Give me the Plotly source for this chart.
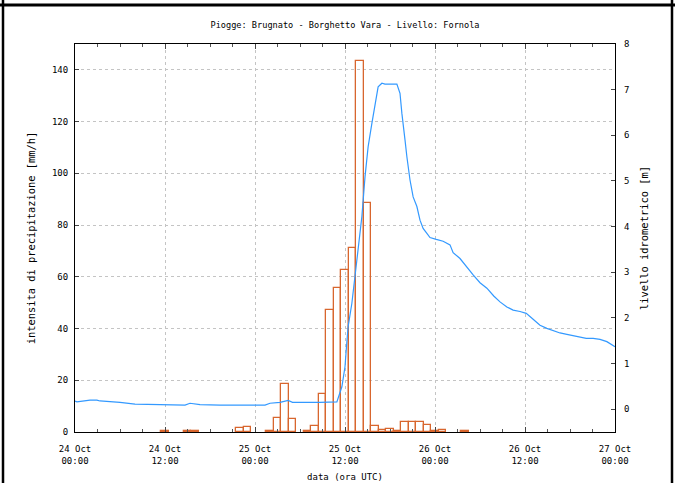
import plotly.graph_objects as go

# --- data ---
rain_times = [
    "2011-10-24 12:00", "2011-10-24 15:00", "2011-10-24 16:00", "2011-10-24 22:00", "2011-10-24 23:00",
    "2011-10-25 02:00", "2011-10-25 03:00", "2011-10-25 04:00", "2011-10-25 05:00", "2011-10-25 07:00",
    "2011-10-25 08:00", "2011-10-25 09:00", "2011-10-25 10:00", "2011-10-25 11:00", "2011-10-25 12:00",
    "2011-10-25 13:00", "2011-10-25 14:00", "2011-10-25 15:00", "2011-10-25 16:00", "2011-10-25 17:00",
    "2011-10-25 18:00", "2011-10-25 19:00", "2011-10-25 20:00", "2011-10-25 21:00", "2011-10-25 22:00",
    "2011-10-25 23:00", "2011-10-26 00:00", "2011-10-26 01:00", "2011-10-26 04:00",
]
rain_values = [
    0.3, 0.3, 0.3, 1.4, 1.8,
    0.5, 5.5, 18.4, 5.2, 0.5,
    2.4, 14.6, 47.2, 55.8, 62.6,
    71.3, 143.4, 88.5, 2.2, 0.8,
    1.3, 0.3, 4.0, 4.0, 4.0,
    2.6, 0.4, 0.7, 0.3,
]

level_times = [
    "2011-10-24 00:00", "2011-10-24 00:15", "2011-10-24 02:00", "2011-10-24 02:55", "2011-10-24 03:20",
    "2011-10-24 06:00", "2011-10-24 08:00", "2011-10-24 11:20", "2011-10-24 12:00", "2011-10-24 14:40",
    "2011-10-24 15:20", "2011-10-24 16:40", "2011-10-24 19:20", "2011-10-24 23:20", "2011-10-25 01:20",
    "2011-10-25 02:00", "2011-10-25 03:20", "2011-10-25 04:25", "2011-10-25 05:00", "2011-10-25 08:40",
    "2011-10-25 10:55", "2011-10-25 11:35", "2011-10-25 12:00", "2011-10-25 12:10", "2011-10-25 12:25",
    "2011-10-25 12:55", "2011-10-25 13:20", "2011-10-25 13:50", "2011-10-25 14:15", "2011-10-25 14:40",
    "2011-10-25 15:05", "2011-10-25 15:35", "2011-10-25 16:00", "2011-10-25 16:25", "2011-10-25 16:55",
    "2011-10-25 17:20", "2011-10-25 18:55", "2011-10-25 19:20", "2011-10-25 19:35", "2011-10-25 19:50",
    "2011-10-25 20:00", "2011-10-25 20:15", "2011-10-25 20:40", "2011-10-25 21:05", "2011-10-25 21:35",
    "2011-10-25 22:00", "2011-10-25 22:25", "2011-10-25 22:55", "2011-10-25 23:20", "2011-10-26 00:10",
    "2011-10-26 01:05", "2011-10-26 02:00", "2011-10-26 02:25", "2011-10-26 03:20", "2011-10-26 04:10",
    "2011-10-26 05:05", "2011-10-26 06:00", "2011-10-26 06:55", "2011-10-26 07:50", "2011-10-26 08:40",
    "2011-10-26 09:35", "2011-10-26 10:25", "2011-10-26 11:20", "2011-10-26 12:10", "2011-10-26 13:05",
    "2011-10-26 14:00", "2011-10-26 14:55", "2011-10-26 15:50", "2011-10-26 16:40", "2011-10-26 17:35",
    "2011-10-26 18:25", "2011-10-26 19:20", "2011-10-26 20:10", "2011-10-26 21:05", "2011-10-26 22:00",
    "2011-10-26 22:55", "2011-10-26 23:50", "2011-10-27 00:00",
]
level_values = [
    0.18, 0.16, 0.20, 0.20, 0.18,
    0.15, 0.11, 0.10, 0.11, 0.09,
    0.13, 0.10, 0.09, 0.09, 0.09,
    0.13, 0.15, 0.19, 0.15, 0.15,
    0.16, 0.49, 0.93, 1.30, 1.81,
    2.32, 2.90, 3.56, 4.22, 5.09,
    5.75, 6.26, 6.70, 7.06, 7.14,
    7.12, 7.12, 6.92, 6.48, 6.19,
    5.90, 5.53, 5.02, 4.65, 4.44,
    4.14, 3.96, 3.85, 3.76, 3.72,
    3.68, 3.60, 3.43, 3.30, 3.12,
    2.94, 2.77, 2.65, 2.48, 2.35,
    2.24, 2.17, 2.14, 2.10, 1.97,
    1.84, 1.77, 1.72, 1.67, 1.64,
    1.61, 1.59, 1.55, 1.55, 1.53,
    1.48, 1.39, 1.37,
]

title_text = "Piogge: Brugnato - Borghetto Vara - Livello: Fornola"
y_left_title = "intensita di precipitazione [mm/h]"
y_right_title = "livello idrometrico [m]"
x_title = "data (ora UTC)"

FONT = "DejaVu Sans Mono"
HOUR_MS = 3600000

fig = go.Figure()
fig.add_trace(go.Bar(
    x=rain_times, y=rain_values, width=HOUR_MS,
    marker=dict(color="rgba(255,255,255,0)", line=dict(color="#D8662E", width=1.3)),
    yaxis="y", showlegend=False,
))
fig.add_trace(go.Scatter(
    x=level_times, y=level_values, mode="lines",
    line=dict(color="#3399FF", width=1.2),
    yaxis="y2", showlegend=False,
))

grid = dict(showgrid=True, gridcolor="#C4C4C4", griddash="dot", gridwidth=1)

fig.update_layout(
    width=675, height=483,
    margin=dict(l=75, r=60, t=44, b=51),
    paper_bgcolor="white", plot_bgcolor="white",
    font=dict(family=FONT, size=9, color="black"),
    bargap=0,
    title=dict(text=title_text, x=345 / 675, xanchor="center", y=1 - 25 / 483, yanchor="middle",
               font=dict(family=FONT, size=8.6, color="black")),
    xaxis=dict(
        type="date", range=["2011-10-24 00:00", "2011-10-27 00:00"], automargin=False,
        dtick=12 * HOUR_MS, tick0="2011-10-24 00:00", tickformat="%d %b<br>%H:%M",
        ticks="inside", ticklen=5, tickcolor="#444", showline=True, linecolor="black", linewidth=1,
        mirror="ticks", ticklabelstandoff=8,
        minor=dict(dtick=3 * HOUR_MS, ticks="inside", ticklen=3, tickcolor="#555"),
        title=dict(text=x_title, standoff=9, font=dict(family=FONT, size=9)), **grid,
    ),
    yaxis=dict(
        range=[0, 150], dtick=20, tick0=0, ticks="inside", ticklen=4, tickcolor="#444",
        showline=True, linecolor="black", linewidth=1, mirror=True, zeroline=False,
        ticklabelstandoff=4, automargin=False,
        title=dict(text=y_left_title, standoff=14, font=dict(family=FONT, size=10.4)), **grid,
    ),
    yaxis2=dict(
        overlaying="y", side="right", range=[-0.5, 8], dtick=1, tick0=0,
        ticks="inside", ticklen=4, tickcolor="#444", showgrid=False, zeroline=False,
        ticklabelstandoff=8, automargin=False,
        title=dict(text=y_right_title, standoff=12, font=dict(family=FONT, size=10.4)),
    ),
)

# outer frame lines (page border)
fig.add_shape(type="line", xref="paper", yref="paper", x0=(3 - 75) / 540, x1=(3 - 75) / 540,
              y0=(432 - 0) / 388, y1=(432 - 483) / 388, line=dict(color="black", width=2.5))
fig.add_shape(type="line", xref="paper", yref="paper", x0=(672 - 75) / 540, x1=(672 - 75) / 540,
              y0=(432 - 0) / 388, y1=(432 - 483) / 388, line=dict(color="black", width=2.5))
fig.add_shape(type="line", xref="paper", yref="paper", x0=-75 / 540, x1=600 / 540,
              y0=(432 - 5) / 388, y1=(432 - 5) / 388, line=dict(color="black", width=3))

fig.write_html("out.html")
